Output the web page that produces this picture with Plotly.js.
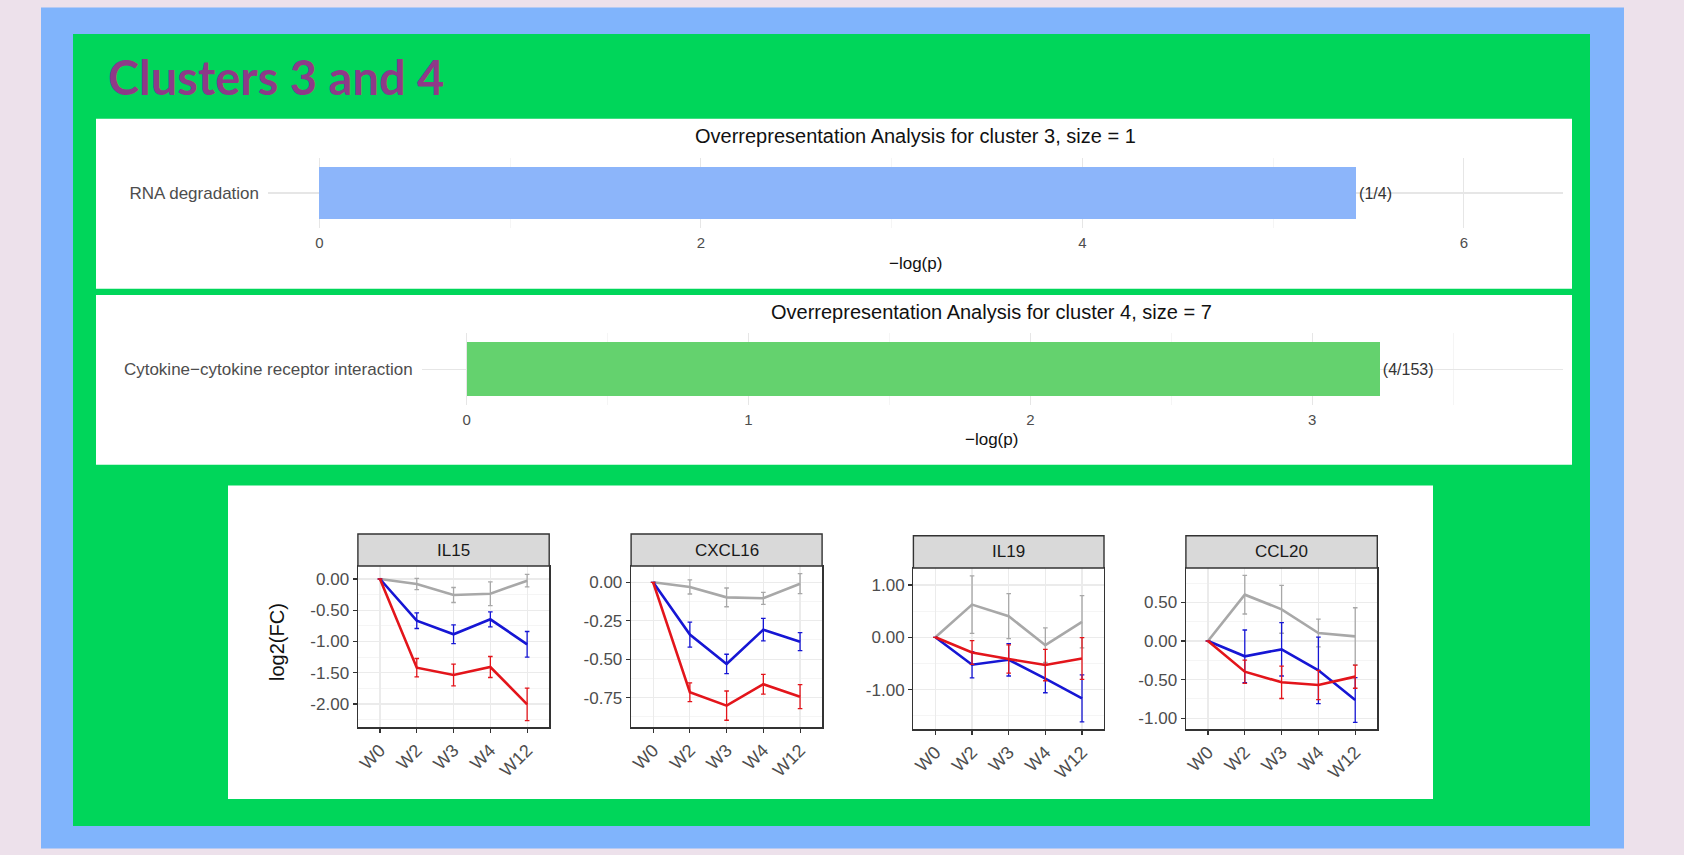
<!DOCTYPE html>
<html>
<head>
<meta charset="utf-8">
<script src="https://cdn.plot.ly/plotly-3.0.1.min.js"></script>
<style>
html,body{margin:0;padding:0;background:#ede1eb;}
#chart{width:1684px;height:855px;}
</style>
</head>
<body>
<div id="chart"></div>
<script>
// ---------- data ----------
const pageTitle = 'Clusters 3 and 4';

const ora3Title = 'Overrepresentation Analysis for cluster 3, size = 1';
const ora3Terms = ['RNA degradation'];
const ora3Values = [5.435];
const ora3Ratios = ['(1/4)'];

const ora4Title = 'Overrepresentation Analysis for cluster 4, size = 7';
const ora4Terms = ['Cytokine\u2212cytokine receptor interaction'];
const ora4Values = [3.24];
const ora4Ratios = ['(4/153)'];

const weeks = ['W0', 'W2', 'W3', 'W4', 'W12'];
const genes = ['IL15', 'CXCL16', 'IL19', 'CCL20'];

const il15Gray = [0, -0.08, -0.256, -0.235, -0.027];
const il15GrayErr = [null, 0.09, 0.12, 0.19, 0.10];
const il15Blue = [0, -0.667, -0.885, -0.645, -1.045];
const il15BlueErr = [null, 0.125, 0.15, 0.12, 0.205];
const il15Red = [0, -1.419, -1.536, -1.408, -2.005];
const il15RedErr = [null, 0.147, 0.173, 0.168, 0.26];

const cxcl16Gray = [0, -0.030, -0.098, -0.104, -0.009];
const cxcl16GrayErr = [null, 0.046, 0.061, 0.039, 0.065];
const cxcl16Blue = [0, -0.340, -0.531, -0.308, -0.386];
const cxcl16BlueErr = [null, 0.081, 0.063, 0.073, 0.059];
const cxcl16Red = [0, -0.715, -0.802, -0.663, -0.744];
const cxcl16RedErr = [null, 0.061, 0.095, 0.064, 0.078];

const il19Gray = [0, 0.625, 0.404, -0.151, 0.297];
const il19GrayErr = [null, 0.55, 0.43, 0.33, 0.50];
const il19Blue = [0, -0.524, -0.429, -0.789, -1.167];
const il19BlueErr = [null, 0.25, 0.31, 0.27, 0.45];
const il19Red = [0, -0.29, -0.416, -0.53, -0.404];
const il19RedErr = [null, 0.227, 0.27, 0.30, 0.40];

const ccl20Gray = [0, 0.599, 0.41, 0.103, 0.060];
const ccl20GrayErr = [null, 0.25, 0.31, 0.18, 0.37];
const ccl20Blue = [0, -0.198, -0.108, -0.379, -0.763];
const ccl20BlueErr = [null, 0.34, 0.345, 0.43, 0.29];
const ccl20Red = [0, -0.397, -0.534, -0.569, -0.461];
const ccl20RedErr = [null, 0.15, 0.21, 0.19, 0.15];

const il15Ticks = [0, -0.5, -1, -1.5, -2];
const il15TickText = ['0.00', '-0.50', '-1.00', '-1.50', '-2.00'];
const cxcl16Ticks = [0, -0.25, -0.5, -0.75];
const cxcl16TickText = ['0.00', '-0.25', '-0.50', '-0.75'];
const il19Ticks = [1, 0, -1];
const il19TickText = ['1.00', '0.00', '-1.00'];
const ccl20Ticks = [0.5, 0, -0.5, -1];
const ccl20TickText = ['0.50', '0.00', '-0.50', '-1.00'];

// ---------- layout helpers ----------
const W = 1684, H = 855;
const px = v => v / W;
const py = v => 1 - v / H;
const FONT = 'Liberation Sans, Arial, Helvetica, sans-serif';
const GRAYTXT = '#4d4d4d';

const cGray = '#a8a8a8', cBlue = '#1616d4', cRed = '#e3151b';

function lineTrace(y, err, color, xa, ya) {
  return {
    type: 'scatter', mode: 'lines', x: weeks, y: y,
    xaxis: xa, yaxis: ya,
    line: {color: color, width: 2.6},
    error_y: {type: 'data', array: err, visible: true, color: color, thickness: 1.3, width: 2.3},
    showlegend: false, hoverinfo: 'skip'
  };
}

const traces = [
  {type: 'bar', orientation: 'h', y: ora3Terms, x: ora3Values, text: ora3Ratios,
   textposition: 'outside', cliponaxis: false, width: 0.9,
   textfont: {family: FONT, size: 16, color: '#333333'},
   marker: {color: '#8cb5fa', line: {width: 0}}, xaxis: 'x', yaxis: 'y', showlegend: false, hoverinfo: 'skip'},
  {type: 'bar', orientation: 'h', y: ora4Terms, x: ora4Values, text: ora4Ratios,
   textposition: 'outside', cliponaxis: false, width: 0.9,
   textfont: {family: FONT, size: 16, color: '#333333'},
   marker: {color: '#64d26e', line: {width: 0}}, xaxis: 'x2', yaxis: 'y2', showlegend: false, hoverinfo: 'skip'},

  lineTrace(il15Gray, il15GrayErr, cGray, 'x3', 'y3'),
  lineTrace(il15Blue, il15BlueErr, cBlue, 'x3', 'y3'),
  lineTrace(il15Red, il15RedErr, cRed, 'x3', 'y3'),

  lineTrace(cxcl16Gray, cxcl16GrayErr, cGray, 'x4', 'y4'),
  lineTrace(cxcl16Blue, cxcl16BlueErr, cBlue, 'x4', 'y4'),
  lineTrace(cxcl16Red, cxcl16RedErr, cRed, 'x4', 'y4'),

  lineTrace(il19Gray, il19GrayErr, cGray, 'x5', 'y5'),
  lineTrace(il19Blue, il19BlueErr, cBlue, 'x5', 'y5'),
  lineTrace(il19Red, il19RedErr, cRed, 'x5', 'y5'),

  lineTrace(ccl20Gray, ccl20GrayErr, cGray, 'x6', 'y6'),
  lineTrace(ccl20Blue, ccl20BlueErr, cBlue, 'x6', 'y6'),
  lineTrace(ccl20Red, ccl20RedErr, cRed, 'x6', 'y6')
];

function barX(dom, range, dtick, anchor) {
  return {
    domain: [px(dom[0]), px(dom[1])], range: range, anchor: anchor,
    dtick: dtick, tick0: 0, showgrid: true, gridcolor: '#e6e6e6', gridwidth: 1.1,
    minor: {dtick: dtick / 2, tick0: 0, showgrid: true, gridcolor: '#f2f2f2', gridwidth: 0.8},
    zeroline: false, showline: false, ticks: '', ticklabelstandoff: 4,
    tickfont: {family: FONT, size: 15, color: GRAYTXT}, fixedrange: true
  };
}
function barY(top, bottom, anchor) {
  return {
    domain: [py(bottom), py(top)], range: [-0.6, 0.6], anchor: anchor, type: 'category',
    showgrid: true, gridcolor: '#e6e6e6', gridwidth: 1.1, zeroline: false, showline: false,
    ticks: '', ticklabelstandoff: 8,
    tickfont: {family: FONT, size: 17, color: GRAYTXT}, fixedrange: true
  };
}
function facetX(x0, x1, anchor) {
  return {
    domain: [px(x0), px(x1)], range: [-0.6, 4.6], anchor: anchor, type: 'category',
    categoryorder: 'array', categoryarray: weeks,
    showgrid: true, gridcolor: '#ebebeb', gridwidth: 1.2, zeroline: false,
    showline: true, linecolor: '#333333', linewidth: 1.4, mirror: true,
    ticks: 'outside', ticklen: 4, tickcolor: '#333333', tickwidth: 1.1,
    tickangle: -45, tickfont: {family: FONT, size: 18, color: GRAYTXT}, fixedrange: true
  };
}
function facetY(top, bottom, range, tv, tt, minorStep, anchor) {
  return {
    domain: [py(bottom), py(top)], range: range, anchor: anchor,
    tickmode: 'array', tickvals: tv, ticktext: tt,
    showgrid: true, gridcolor: '#ebebeb', gridwidth: 1.2, zeroline: false,
    minor: {dtick: minorStep, tick0: 0, showgrid: true, gridcolor: '#f3f3f3', gridwidth: 0.8, ticks: ''},
    showline: true, linecolor: '#333333', linewidth: 1.4, mirror: true,
    ticks: 'outside', ticklen: 4, tickcolor: '#333333', tickwidth: 1.1,
    tickfont: {family: FONT, size: 17, color: GRAYTXT}, fixedrange: true
  };
}

const facets = [
  {x0: 357.9, x1: 549.2, top: 566, bottom: 727.3, st: 534},
  {x0: 631.1, x1: 822.1, top: 566, bottom: 727.3, st: 534},
  {x0: 913.4, x1: 1104, top: 568, bottom: 729.3, st: 535.7},
  {x0: 1185.9, x1: 1377.3, top: 568, bottom: 729.3, st: 535.7}
];

const shapes = [
  {type: 'rect', xref: 'paper', yref: 'paper', x0: px(41), x1: px(1624), y0: py(848.5), y1: py(7.5), fillcolor: '#80b4fc', line: {width: 0}, layer: 'below'},
  {type: 'rect', xref: 'paper', yref: 'paper', x0: px(73), x1: px(1590), y0: py(826), y1: py(34), fillcolor: '#00d65a', line: {width: 0}, layer: 'below'},
  {type: 'rect', xref: 'paper', yref: 'paper', x0: px(96), x1: px(1572), y0: py(288.7), y1: py(118.7), fillcolor: '#ffffff', line: {width: 0}, layer: 'below'},
  {type: 'rect', xref: 'paper', yref: 'paper', x0: px(96), x1: px(1572), y0: py(464.7), y1: py(295), fillcolor: '#ffffff', line: {width: 0}, layer: 'below'},
  {type: 'rect', xref: 'paper', yref: 'paper', x0: px(228), x1: px(1433), y0: py(799), y1: py(485.5), fillcolor: '#ffffff', line: {width: 0}, layer: 'below'}
];
facets.forEach(f => {
  shapes.push({type: 'rect', xref: 'paper', yref: 'paper', x0: px(f.x0), x1: px(f.x1), y0: py(f.top), y1: py(f.st),
    fillcolor: '#d9d9d9', line: {color: '#333333', width: 1.4}, layer: 'above'});
});

const annotations = [
  {text: '<b>' + pageTitle + '</b>', xref: 'paper', yref: 'paper', x: px(106), y: py(77), xanchor: 'left', yanchor: 'middle',
   showarrow: false, font: {family: 'Lato, Open Sans, sans-serif', size: 47, color: '#8e3a88'}},
  {text: ora3Title, xref: 'paper', yref: 'paper', x: px(915), y: py(136), xanchor: 'center', yanchor: 'middle',
   showarrow: false, font: {family: FONT, size: 20, color: '#111111'}},
  {text: '\u2212log(p)', xref: 'paper', yref: 'paper', x: px(915), y: py(263), xanchor: 'center', yanchor: 'middle',
   showarrow: false, font: {family: FONT, size: 17, color: '#111111'}},
  {text: ora4Title, xref: 'paper', yref: 'paper', x: px(992), y: py(312.5), xanchor: 'center', yanchor: 'middle',
   showarrow: false, font: {family: FONT, size: 20, color: '#111111'}},
  {text: '\u2212log(p)', xref: 'paper', yref: 'paper', x: px(992), y: py(439), xanchor: 'center', yanchor: 'middle',
   showarrow: false, font: {family: FONT, size: 17, color: '#111111'}},
  {text: 'log2(FC)', xref: 'paper', yref: 'paper', x: px(277), y: py(642), xanchor: 'center', yanchor: 'middle',
   textangle: -90, showarrow: false, font: {family: FONT, size: 20, color: '#111111'}}
];
facets.forEach((f, i) => {
  annotations.push({text: genes[i], xref: 'paper', yref: 'paper', x: px((f.x0 + f.x1) / 2), y: py((f.st + f.top) / 2),
    xanchor: 'center', yanchor: 'middle', showarrow: false, font: {family: FONT, size: 17, color: '#1a1a1a'}});
});

const layout = {
  width: W, height: H, margin: {l: 0, r: 0, t: 0, b: 0, pad: 0},
  paper_bgcolor: '#ede1eb', plot_bgcolor: '#ffffff',
  showlegend: false, bargap: 0,
  xaxis: barX([268, 1563], [-0.27, 6.52], 2, 'y'),
  yaxis: barY(158, 228, 'x'),
  xaxis2: barX([421.6, 1563], [-0.16, 3.89], 1, 'y2'),
  yaxis2: barY(333.3, 405, 'x2'),
  xaxis3: facetX(facets[0].x0, facets[0].x1, 'y3'),
  yaxis3: facetY(facets[0].top, facets[0].bottom, [-2.373, 0.208], il15Ticks, il15TickText, 0.25, 'x3'),
  xaxis4: facetX(facets[1].x0, facets[1].x1, 'y4'),
  yaxis4: facetY(facets[1].top, facets[1].bottom, [-0.943, 0.106], cxcl16Ticks, cxcl16TickText, 0.125, 'x4'),
  xaxis5: facetX(facets[2].x0, facets[2].x1, 'y5'),
  yaxis5: facetY(facets[2].top, facets[2].bottom, [-1.758, 1.325], il19Ticks, il19TickText, 0.5, 'x5'),
  xaxis6: facetX(facets[3].x0, facets[3].x1, 'y6'),
  yaxis6: facetY(facets[3].top, facets[3].bottom, [-1.142, 0.944], ccl20Ticks, ccl20TickText, 0.25, 'x6'),
  shapes: shapes,
  annotations: annotations
};
layout.xaxis2.minor = {dtick: 0.5, tick0: 0, showgrid: true, gridcolor: '#f2f2f2', gridwidth: 0.8};

Plotly.newPlot('chart', traces, layout, {staticPlot: true, displayModeBar: false});
</script>
</body>
</html>
